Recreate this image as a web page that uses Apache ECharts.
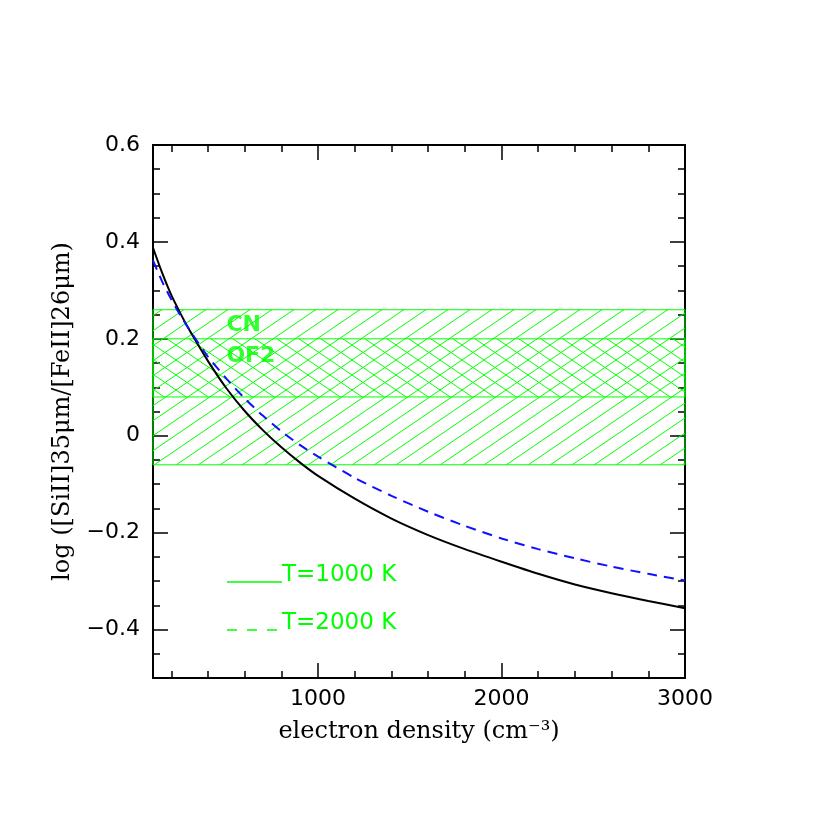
<!DOCTYPE html>
<html>
<head>
<meta charset="utf-8">
<title>[SiII]/[FeII] ratio vs electron density</title>
<script src="https://cdn.jsdelivr.net/npm/echarts@6/dist/echarts.min.js"></script>
<style>
  html, body { margin: 0; padding: 0; background: #fff; }
  #chart { width: 830px; height: 830px; }
</style>
</head>
<body>
<div id="chart"></div>
<script>
// electron density (cm-3)
var density = [100, 150, 200, 250, 300, 400, 500, 600, 700, 800, 900, 1000,
  1200, 1400, 1600, 1800, 2000, 2200, 2400, 2600, 2800, 3000];
// log ratio, T=1000 K
var t1000 = [0.388, 0.336, 0.290, 0.252, 0.217, 0.154, 0.098, 0.051, 0.011, -0.024, -0.055, -0.083,
  -0.130, -0.171, -0.205, -0.234, -0.260, -0.285, -0.307, -0.325, -0.341, -0.356];
// log ratio, T=2000 K
var t2000 = [0.362, 0.318, 0.281, 0.248, 0.218, 0.163, 0.118, 0.077, 0.041, 0.009, -0.019, -0.043,
  -0.087, -0.124, -0.157, -0.186, -0.212, -0.234, -0.253, -0.270, -0.285, -0.299];
var seriesNames = ['T=1000 K', 'T=2000 K'];

// observed ranges
var bandNames = ['CN', 'OF2'];
var bandLow = [-0.06, 0.08];
var bandHigh = [0.26, 0.20];
var bandLabelAt = [[500, 0.228], [500, 0.163]];

// ticks
var xMajor = [1000, 2000, 3000];
var xMinor = [200, 400, 600, 800, 1200, 1400, 1600, 1800, 2200, 2400, 2600, 2800];
var yMajor = [-0.4, -0.2, 0, 0.2, 0.4, 0.6];
var yMinor = [-0.45, -0.35, -0.3, -0.25, -0.15, -0.1, -0.05, 0.05, 0.1, 0.15,
  0.25, 0.3, 0.35, 0.45, 0.5, 0.55];

var green = '#00ff00';

// diagonal hatch tile, dir 1 = "/", -1 = "\"
var hatch = function (dir) {
  var c = document.createElement('canvas');
  c.width = 22;
  c.height = 15;
  var g = c.getContext('2d');
  g.strokeStyle = green;
  g.lineWidth = 1;
  for (var k = -1; k <= 1; k++) {
    g.beginPath();
    if (dir > 0) {
      g.moveTo(-22, 30 + 15 * k);
      g.lineTo(44, -15 + 15 * k);
    } else {
      g.moveTo(-22, -15 + 15 * k);
      g.lineTo(44, 30 + 15 * k);
    }
    g.stroke();
  }
  return {image: c, repeat: 'repeat'};
};
var hatches = [hatch(1), hatch(-1)];

var makeAxis = function (pos, min, max, ticks, len) {
  return {
    type: 'value',
    position: pos,
    min: min,
    max: max,
    axisLine: {show: true, onZero: false, lineStyle: {color: '#000', width: 2}},
    axisTick: {show: true, inside: true, length: len, customValues: ticks,
      lineStyle: {color: '#000', width: 1.5}},
    axisLabel: {show: false},
    splitLine: {show: false}
  };
};

var xAxes = [
  makeAxis('bottom', 100, 3000, xMajor, 15),
  makeAxis('bottom', 100, 3000, xMinor, 7),
  makeAxis('top', 100, 3000, xMajor, 15),
  makeAxis('top', 100, 3000, xMinor, 7)
];
xAxes[0].name = 'electron density (cm⁻³)';
xAxes[0].nameLocation = 'middle';
xAxes[0].nameGap = 42;
xAxes[0].nameTextStyle = {fontFamily: 'DejaVu Serif', fontSize: 24, color: '#000'};
xAxes[0].axisLabel = {show: true, customValues: xMajor, margin: 10,
  fontFamily: 'DejaVu Sans', fontSize: 22, color: '#000',
  formatter: function (v) { return String(v); }};

var yAxes = [
  makeAxis('left', -0.5, 0.6, yMajor, 15),
  makeAxis('left', -0.5, 0.6, yMinor, 7),
  makeAxis('right', -0.5, 0.6, yMajor, 15),
  makeAxis('right', -0.5, 0.6, yMinor, 7)
];
yAxes[0].name = 'log ([SiII]35μm/[FeII]26μm)';
yAxes[0].nameLocation = 'middle';
yAxes[0].nameRotate = 90;
yAxes[0].nameGap = 78;
yAxes[0].nameTextStyle = {fontFamily: 'DejaVu Serif', fontSize: 24, color: '#000'};
yAxes[0].axisLabel = {show: true, customValues: yMajor, margin: 13,
  fontFamily: 'DejaVu Sans', fontSize: 22, color: '#000',
  formatter: function (v) {
    if (Math.abs(v) < 1e-9) return '0';
    return v.toFixed(1).replace('-', '\u2212');
  }};

var bandAreas = bandNames.map(function (n, i) {
  return [
    {name: n, yAxis: bandLow[i], itemStyle: {color: hatches[i], borderColor: green, borderWidth: 1, opacity: 1}},
    {yAxis: bandHigh[i]}
  ];
});

var curve = function (name, vals, color, type) {
  return {
    name: name,
    type: 'line',
    xAxisIndex: 0,
    yAxisIndex: 0,
    data: density.map(function (d, i) { return [d, vals[i]]; }),
    showSymbol: false,
    smooth: 0.25,
    z: 5,
    lineStyle: {color: color, width: 2, type: type},
    silent: true
  };
};

var legendRows = [
  {y: 582, dash: null},
  {y: 630, dash: [10, 10]}
];
var graphics = [];
seriesNames.forEach(function (n, i) {
  graphics.push({
    type: 'line',
    shape: {x1: 227, y1: legendRows[i].y, x2: 282, y2: legendRows[i].y},
    style: {stroke: green, lineWidth: 1.5, lineDash: legendRows[i].dash}
  });
  graphics.push({
    type: 'text',
    x: 282,
    y: legendRows[i].y - 7,
    style: {text: n, fill: green, font: '23px "DejaVu Sans"', verticalAlign: 'middle'}
  });
});

var chart = echarts.init(document.getElementById('chart'), null, {renderer: 'canvas'});
var option = {
  backgroundColor: '#fff',
  animation: false,
  grid: {left: 153, right: 145, top: 145, bottom: 152, outerBoundsMode: 'none'},
  xAxis: xAxes,
  yAxis: yAxes,
  graphic: graphics,
  series: [
    {
      name: 'bands',
      type: 'line',
      xAxisIndex: 0,
      yAxisIndex: 0,
      data: [],
      z: 1,
      markArea: {silent: true, label: {show: false}, data: bandAreas}
    },
    {
      name: 'band labels',
      type: 'scatter',
      xAxisIndex: 0,
      yAxisIndex: 0,
      symbolSize: 0,
      silent: true,
      z: 3,
      data: bandNames.map(function (n, i) { return {name: n, value: bandLabelAt[i]}; }),
      label: {show: true, position: 'right', distance: 0, formatter: '{b}',
        color: green, fontFamily: 'DejaVu Sans', fontWeight: 'bold', fontSize: 22}
    },
    curve(seriesNames[0], t1000, '#000', 'solid'),
    curve(seriesNames[1], t2000, '#1010ff', [10, 7])
  ]
};
chart.setOption(option);
</script>
</body>
</html>
